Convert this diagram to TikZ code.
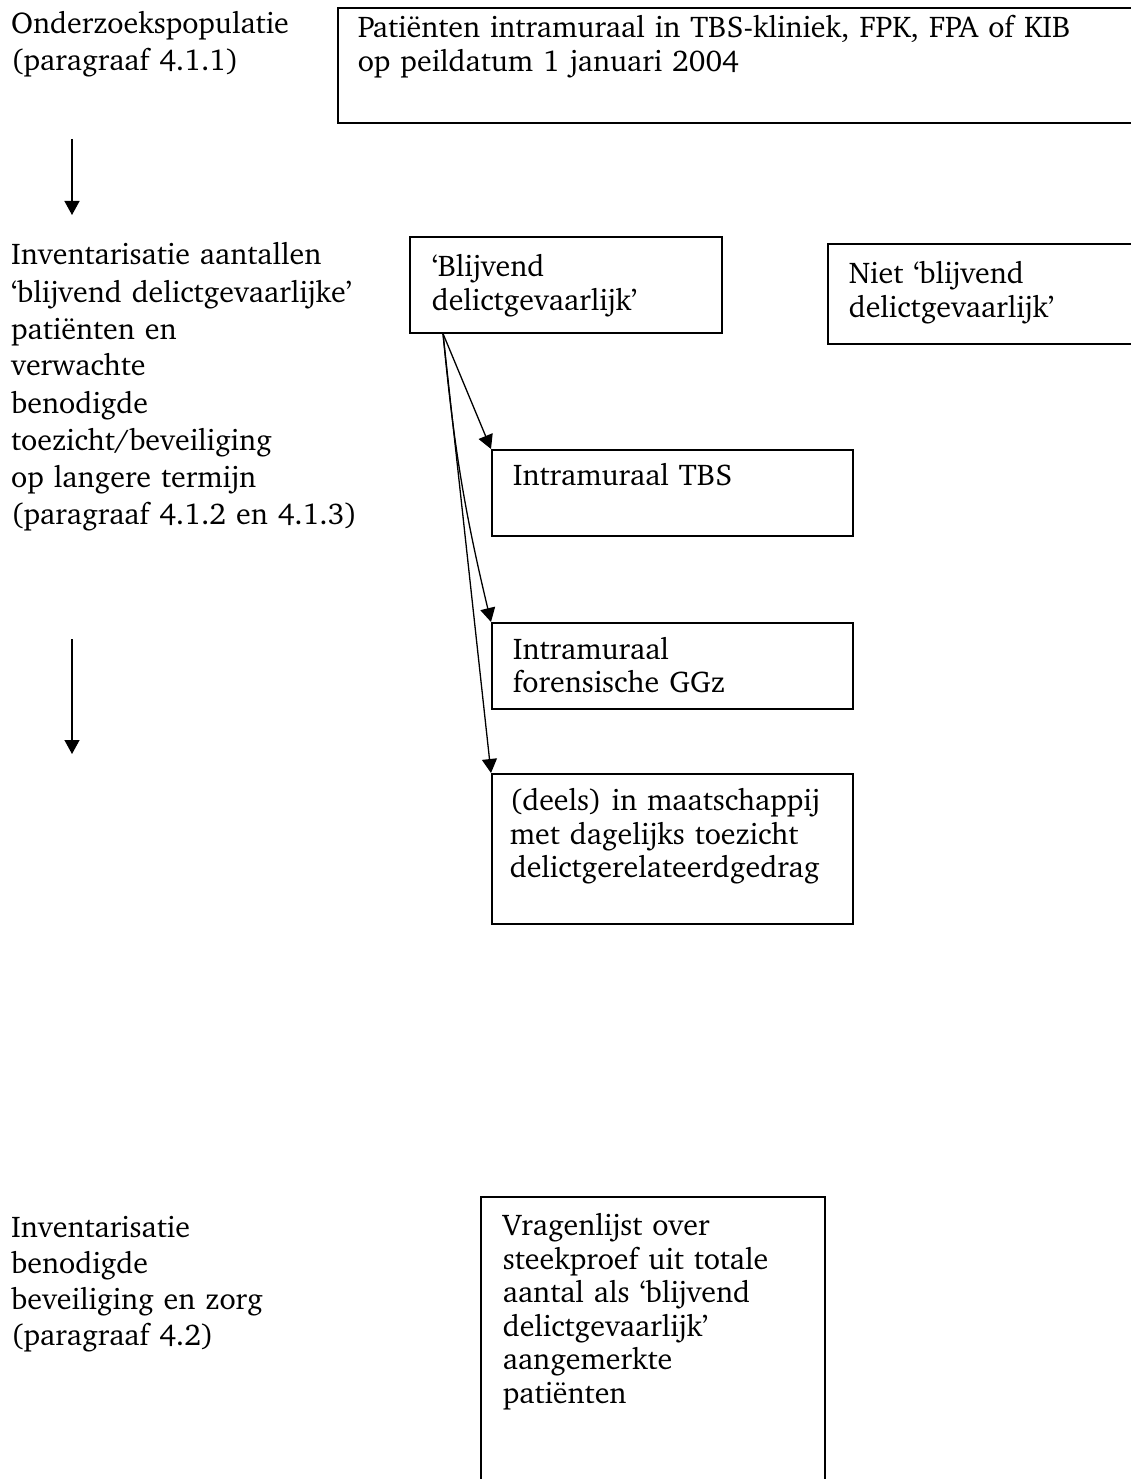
\documentclass[tikz,border=0pt]{standalone}
\usepackage[T1]{fontenc}
\usepackage{charter}
\usetikzlibrary{arrows.meta}
\tikzset{
  kader/.style={draw=black,line width=1.6pt,anchor=north west,align=left,inner ysep=0pt,inner xsep=21pt,font=\fontsize{30}{33.5}\selectfont},
  losse/.style={anchor=base west,align=left,inner sep=0pt,text width=385pt,font=\fontsize{30}{37}\selectfont},
  pijl/.style={-{Triangle[width=15pt,length=14pt]},line width=1.3pt}
}

\begin{document}
\begin{tikzpicture}[x=1pt,y=-1pt]
\useasboundingbox (0,0) rectangle (1131,1479);

\node (onderzoek) [losse] at (11,33.5) {Onderzoekspopulatie\\(paragraaf 4.1.1)};
\node (aantallen) [losse] at (11,265) {Inventarisatie aantallen\\`blijvend delictgevaarlijke'\\patiënten en\\verwachte\\benodigde\\toezicht/beveiliging\\op langere termijn\\(paragraaf 4.1.2 en 4.1.3)};
\node (zorg) [losse,font=\fontsize{30}{36}\selectfont] at (11,1237) {Inventarisatie\\benodigde\\beveiliging en zorg\\(paragraaf 4.2)};

\node (pop) [kader,inner xsep=20pt,text width=770pt,text height=30pt,text depth=85pt] at (337,7) {Patiënten intramuraal in TBS-kliniek, FPK, FPA of KIB\\op peildatum 1 januari 2004};
\node (blijvend) [kader,inner xsep=22pt,text width=268pt,text height=40pt,text depth=56pt] at (409,236) {`Blijvend\\delictgevaarlijk'};
\node (niet) [kader,text width=278pt,text height=40pt,text depth=60pt] at (827,243) {Niet `blijvend\\delictgevaarlijk'};
\node (tbs) [kader,text width=319pt,text height=36pt,text depth=50pt] at (491,449) {Intramuraal TBS};
\node (ggz) [kader,text width=319pt,text height=36.5pt,text depth=49.5pt] at (491,622) {Intramuraal\\forensische GGz};
\node (deels) [kader,inner xsep=18pt,text width=325pt,text height=37pt,text depth=113pt] at (491,773) {(deels) in maatschappij\\met dagelijks toezicht\\delictgerelateerdgedrag};
\node (vragen) [kader,inner xsep=22pt,text width=300pt,text height=39pt,text depth=270pt] at (480,1196) {Vragenlijst over\\steekproef uit totale\\aantal als `blijvend\\delictgevaarlijk'\\aangemerkte\\patiënten};

\coordinate (p1) at (72,139);
\coordinate (p2) at (72,215);
\coordinate (p3) at (72,639);
\coordinate (p4) at (72,754);
\draw[pijl] (p1)--(p2);
\draw[pijl] (p3)--(p4);

\coordinate (splits) at ([xshift=34pt]blijvend.south west);
\draw[pijl] (splits)--(tbs.north west);
\draw[pijl] (splits) to[bend right=4] (ggz.north west);
\draw[pijl] (splits)--(deels.north west);
\end{tikzpicture}
\end{document}
